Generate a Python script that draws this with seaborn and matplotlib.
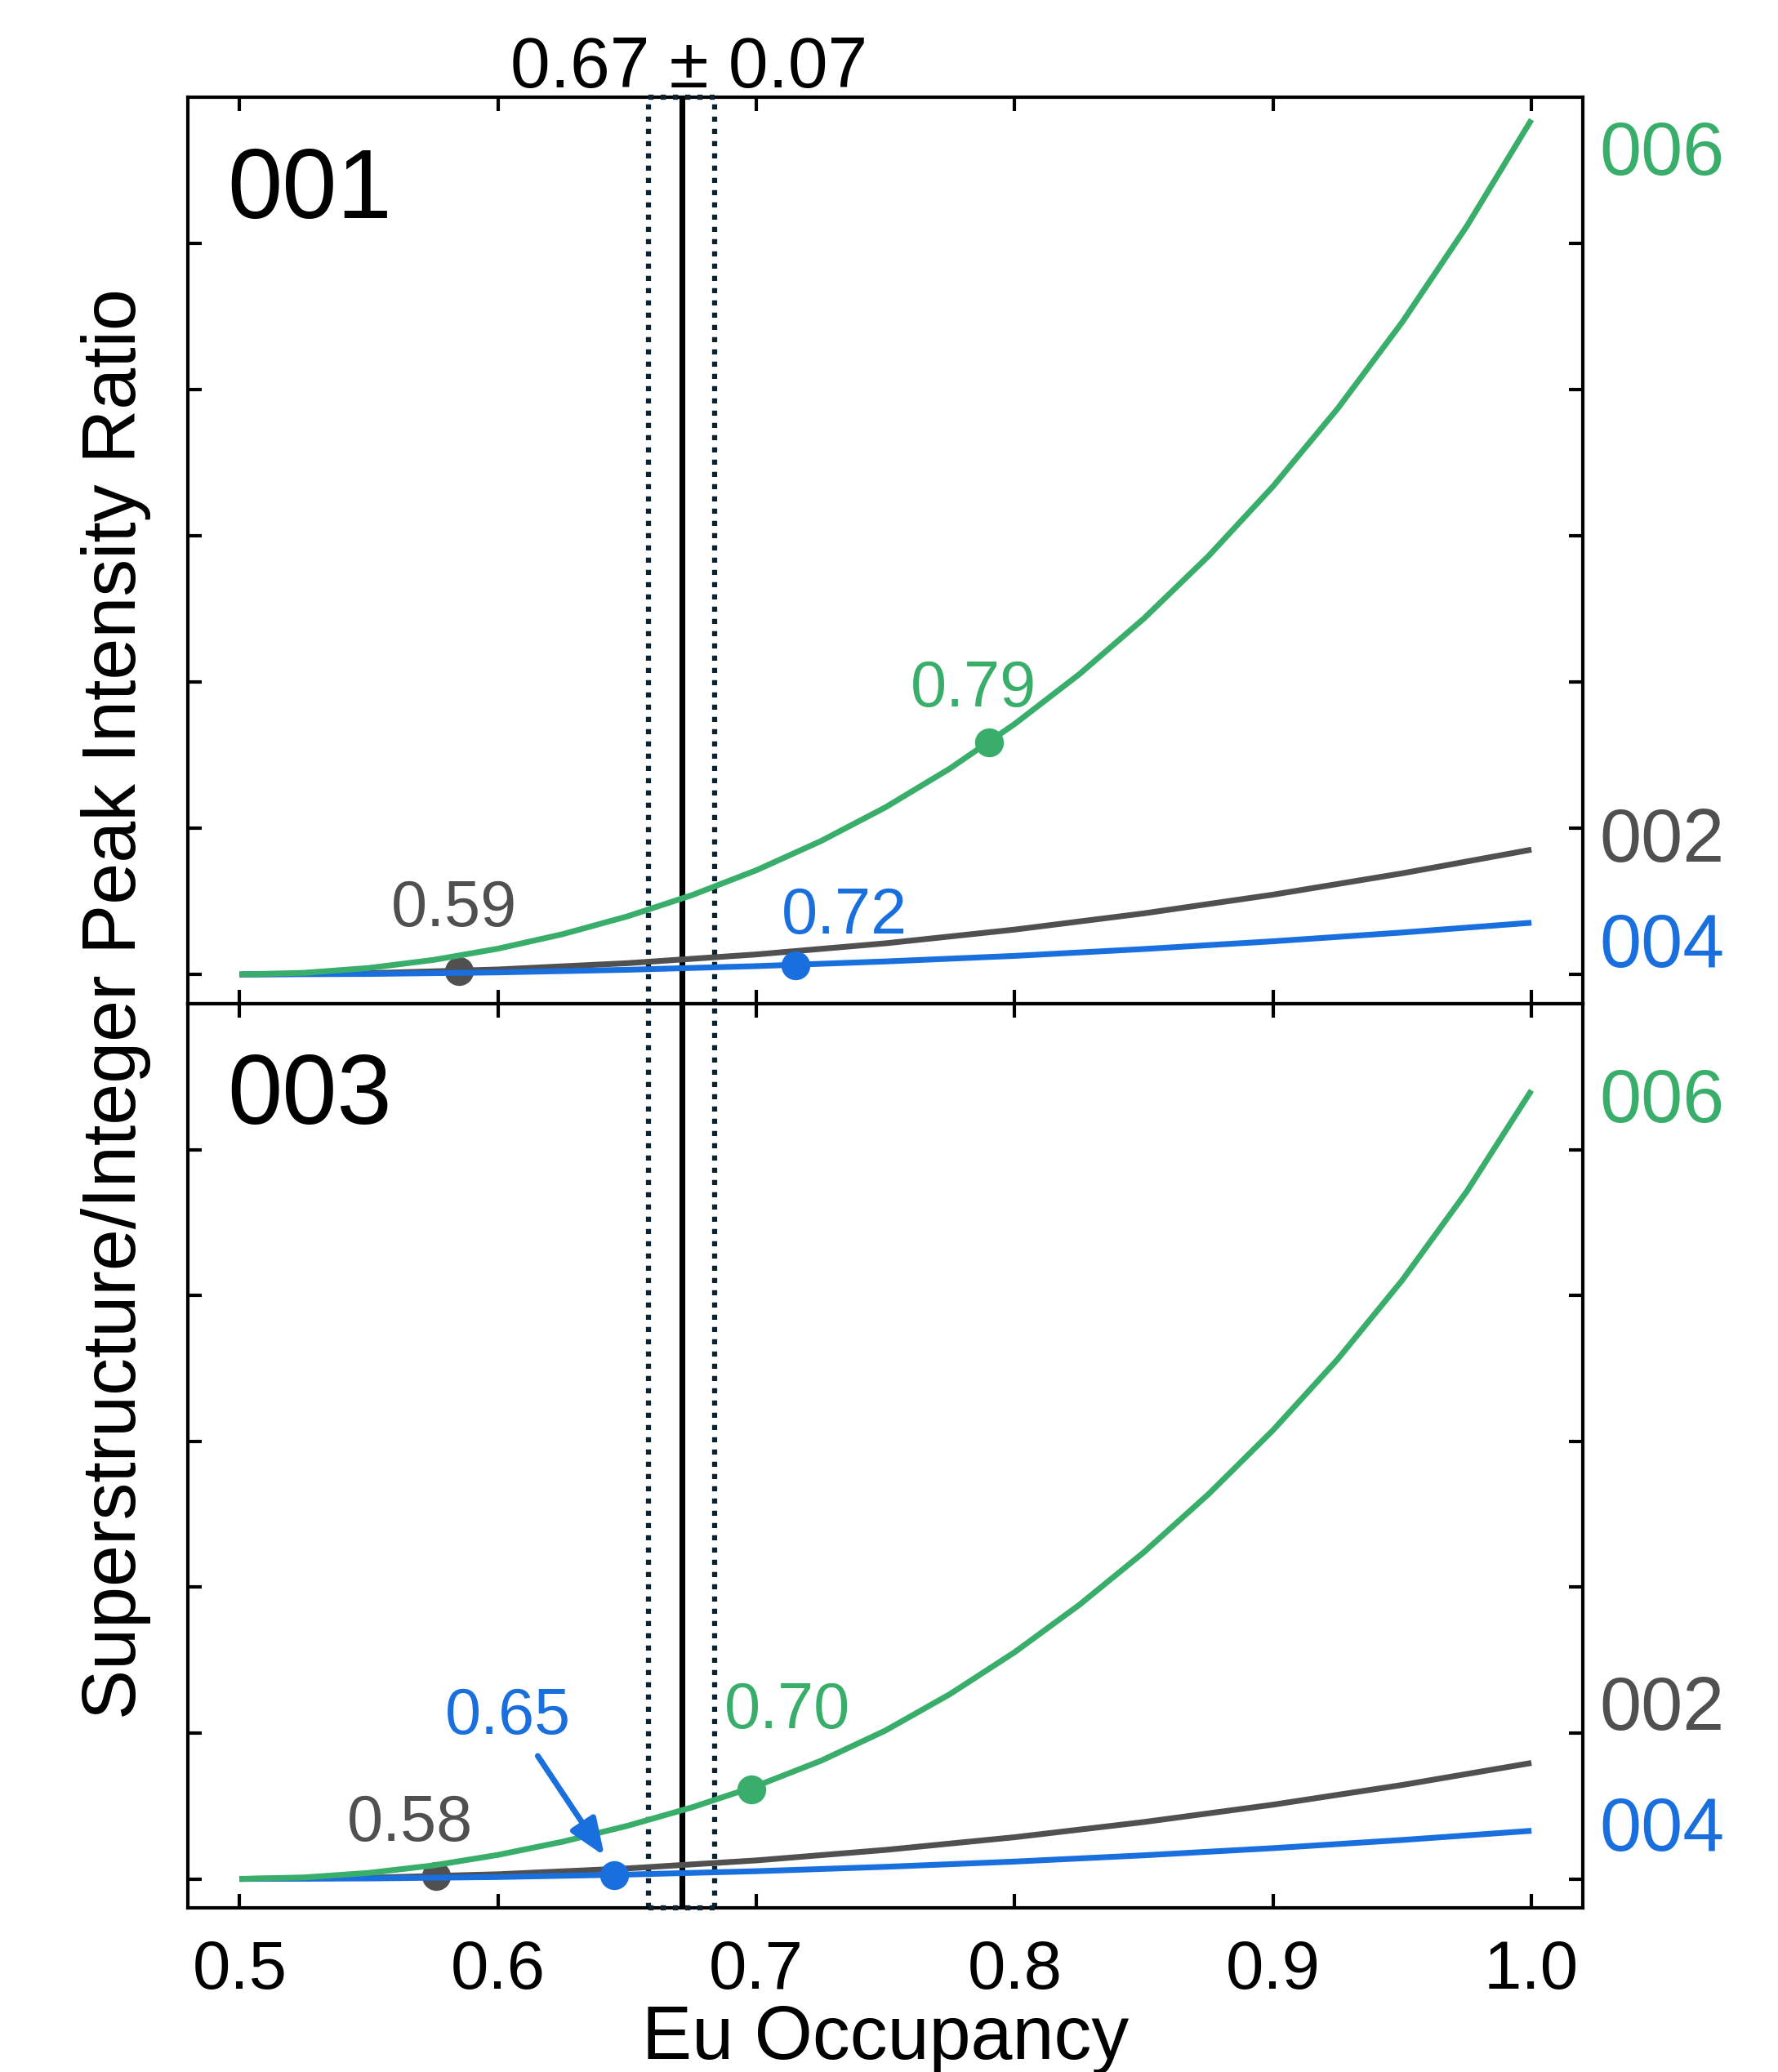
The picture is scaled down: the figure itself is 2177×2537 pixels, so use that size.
import matplotlib
matplotlib.use("Agg")
import matplotlib.pyplot as plt
import matplotlib.transforms as mtransforms
import seaborn as sns
import pandas as pd

# ---------------- data ----------------
occ_fine = [0.5, 0.525, 0.55, 0.575, 0.6, 0.625, 0.65, 0.675, 0.7, 0.725, 0.75,
            0.775, 0.8, 0.825, 0.85, 0.875, 0.9, 0.925, 0.95, 0.975, 1.0]
occ_coarse = [0.5, 0.55, 0.6, 0.65, 0.7, 0.75, 0.8, 0.85, 0.9, 0.95, 1.0]

# panel 001
top_006 = [0.0, 0.0110, 0.0441, 0.0992, 0.1764, 0.2756, 0.3969, 0.5420, 0.7130,
           0.9127, 1.1438, 1.4100, 1.7140, 2.0542, 2.4356, 2.8629, 3.3401,
           3.8720, 4.4637, 5.1207, 5.8491]
top_002 = [0.0, 0.0085, 0.034, 0.077, 0.137, 0.213, 0.307, 0.418, 0.546, 0.692, 0.854]
top_004 = [0.0, 0.0035, 0.014, 0.032, 0.057, 0.089, 0.127, 0.174, 0.227, 0.287, 0.354]

# panel 003
bot_006 = [0.0, 0.0103, 0.0412, 0.0927, 0.1648, 0.2550, 0.3636, 0.4900, 0.6368,
           0.8100, 1.0176, 1.2676, 1.5546, 1.8786, 2.2396, 2.6376, 3.0766,
           3.5626, 4.1046, 4.7136, 5.4056]
bot_002 = [0.0, 0.008, 0.032, 0.072, 0.127, 0.199, 0.286, 0.390, 0.509, 0.644, 0.795]
bot_004 = [0.0, 0.0033, 0.013, 0.030, 0.053, 0.083, 0.119, 0.162, 0.211, 0.267, 0.330]

# matched occupancies (x, y on curve, label) for 002, 004, 006
top_points_x = [0.585, 0.715, 0.790]
top_points_y = [0.024, 0.064, 1.590]
top_points_lbl = ["0.59", "0.72", "0.79"]
bot_points_x = [0.576, 0.645, 0.698]
bot_points_y = [0.018, 0.028, 0.614]
bot_points_lbl = ["0.58", "0.65", "0.70"]

fit_center = 0.6713
fit_band = [0.6583, 0.6839]
fit_text = "0.67 ± 0.07"

x_ticks = [0.5, 0.6, 0.7, 0.8, 0.9, 1.0]
x_ticklabels = ["0.5", "0.6", "0.7", "0.8", "0.9", "1.0"]
y_ticks = [0, 1, 2, 3, 4, 5]

# ---------------- style ----------------
sns.set_style("ticks")
plt.rcParams['font.family'] = ['Liberation Sans', 'DejaVu Sans']
plt.rcParams['axes.linewidth'] = 1.0
for key in ['text.color', 'axes.labelcolor', 'xtick.color', 'ytick.color',
            'axes.edgecolor']:
    plt.rcParams[key] = 'black'

GREEN = "#38AE6A"
BLUE = "#1A6FDE"
GRAY = "#505050"
DOT = "#0B2230"
LW = 1.7

fig = plt.figure(figsize=(2177 / 300, 2537 / 300), dpi=300)
ax1 = fig.add_axes([0.1057, 0.5156, 0.7844, 0.4373])
ax2 = fig.add_axes([0.1057, 0.0791, 0.7844, 0.4365])


def draw_panel(ax, y006, y002, y004, px, py, plbl, panel_name,
               lbl_pos, right_lbl_y):
    ax.set_xlim(0.48, 1.0198)
    ax.set_ylim(-0.2, 6.0)

    # fit line and uncertainty band
    ax.axvline(fit_center, color="black", lw=1.7, zorder=1)
    for xb in fit_band:
        ax.axvline(xb, color=DOT, lw=1.5, ls=(0, (1, 1.4)), zorder=1)

    df_c = pd.DataFrame({"occ": occ_coarse, "r002": y002, "r004": y004})
    df_f = pd.DataFrame({"occ": occ_fine, "r006": y006})
    cols = [GRAY, BLUE, GREEN]
    kw = dict(errorbar=None, solid_joinstyle="round", solid_capstyle="butt")
    sns.lineplot(data=df_c, x="occ", y="r002", ax=ax, color=GRAY, lw=LW,
                 zorder=3, **kw)
    sns.scatterplot(x=[px[0]], y=[py[0]], ax=ax, color=GRAY, s=72,
                    linewidth=0, zorder=4)
    sns.lineplot(data=df_c, x="occ", y="r004", ax=ax, color=BLUE, lw=LW,
                 zorder=5, **kw)
    sns.scatterplot(x=[px[1]], y=[py[1]], ax=ax, color=BLUE, s=72,
                    linewidth=0, zorder=6)
    sns.lineplot(data=df_f, x="occ", y="r006", ax=ax, color=GREEN, lw=LW,
                 zorder=7, **kw)
    sns.scatterplot(x=[px[2]], y=[py[2]], ax=ax, color=GREEN, s=72,
                    linewidth=0, zorder=8)

    for (lx, ly), t, c in zip(lbl_pos, plbl, cols):
        ax.text(lx, ly, t, color=c, fontsize=19, ha="center", va="baseline",
                zorder=9)

    ax.text(0.028, 0.867, panel_name, transform=ax.transAxes, fontsize=29,
            ha="left", va="baseline", color="black")

    trans = mtransforms.blended_transform_factory(ax.transAxes, ax.transData)
    for t, c, yy in zip(["006", "002", "004"], [GREEN, GRAY, BLUE], right_lbl_y):
        ax.text(1.012, yy, t, color=c, fontsize=22, transform=trans,
                ha="left", va="baseline", clip_on=False)

    ax.set_xticks(x_ticks)
    ax.set_yticks(y_ticks)
    ax.tick_params(direction="in", length=4, width=1.0, top=True, right=True,
                   bottom=True, left=True, labelleft=False, labelright=False,
                   color="black")
    ax.set_ylabel("")
    ax.set_xlabel("")


draw_panel(ax1, top_006, top_002, top_004, top_points_x, top_points_y,
           top_points_lbl, "001",
           [(0.583, 0.33), (0.734, 0.278), (0.784, 1.834)],
           [5.473, 0.772, 0.049])
draw_panel(ax2, bot_006, bot_002, bot_004, bot_points_x, bot_points_y,
           bot_points_lbl, "003",
           [(0.566, 0.26), (0.604, 0.997), (0.712, 1.034)],
           [5.186, 1.025, 0.191])

# dotted band caps at the very top and bottom
ax1.plot(fit_band, [6.0, 6.0], color=DOT, lw=1.5, ls=(0, (1, 1.4)),
         clip_on=False, zorder=10)
ax2.plot(fit_band, [-0.2, -0.2], color=DOT, lw=1.5, ls=(0, (1, 1.4)),
         clip_on=False, zorder=10)

# arrow for 0.65
ax2.annotate("", xy=(0.6412, 0.158), xytext=(0.6154, 0.843),
             arrowprops=dict(arrowstyle="-|>,head_length=0.45,head_width=0.18",
                             color=BLUE, lw=1.7, mutation_scale=20,
                             shrinkA=0, shrinkB=0), zorder=9)

# fit text above the top panel
tr_top = mtransforms.blended_transform_factory(ax1.transData, ax1.transAxes)
ax1.text(0.674, 1.0113, fit_text, transform=tr_top, ha="center",
         va="baseline", fontsize=21, color="black")

ax1.tick_params(labelbottom=False)
ax2.set_xticklabels(x_ticklabels)
ax2.tick_params(axis="x", labelsize=20, pad=9, labelcolor="black")
ax2.set_xlabel("Eu Occupancy", fontsize=22, labelpad=0.5, color="black")

fig.text(0.065, 0.5156, "Superstructure/Integer Peak Intensity Ratio",
         rotation=90, fontsize=22, ha="center", va="center", color="black")

fig.savefig("out.png", dpi=300)
